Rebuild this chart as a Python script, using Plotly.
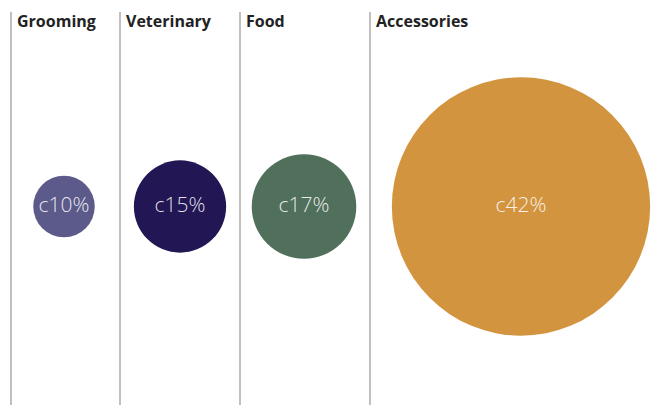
import plotly.graph_objects as go

# Share of spend by category
categories = ["Grooming", "Veterinary", "Food", "Accessories"]
shares = [10, 15, 17, 42]
share_labels = ["c10%", "c15%", "c17%", "c42%"]
colors = ["#5C5A8A", "#221654", "#51705B", "#D39440"]

W, H = 653, 405
# column dividers and bubble centres in page pixels
dividers = [11, 120, 240, 370]
centres_x = [64, 180, 304, 521]
centre_y = 206.5
px_per_point = 6.15  # bubble diameter per percentage point

fig = go.Figure()

fig.add_trace(go.Scatter(
    x=centres_x,
    y=[centre_y] * len(shares),
    mode="markers+text",
    text=share_labels,
    textposition="middle center",
    textfont=dict(family="Open Sans", size=21, weight=300,
                  color="rgba(255,255,255,0.88)"),
    marker=dict(size=[v * px_per_point for v in shares], sizemode="diameter",
                color=colors, opacity=1, line=dict(width=0)),
    hoverinfo="text",
    hovertext=[f"{c}: {l}" for c, l in zip(categories, share_labels)],
    showlegend=False,
    cliponaxis=False,
))

for xd, cat in zip(dividers, categories):
    fig.add_shape(type="line", x0=xd, x1=xd, y0=12, y1=H,
                  line=dict(color="#AEAAA9", width=1.5), layer="below")
    fig.add_annotation(x=xd + 4, y=20.5, text=f"<b>{cat}</b>", showarrow=False,
                       xanchor="left", yanchor="middle",
                       font=dict(family="Open Sans", size=16, color="#222222"))

fig.update_layout(
    width=W, height=H,
    margin=dict(l=0, r=0, t=0, b=0),
    paper_bgcolor="white", plot_bgcolor="white",
    xaxis=dict(range=[0, W], visible=False, fixedrange=True),
    yaxis=dict(range=[H, 0], visible=False, fixedrange=True),
)

fig.write_html("out.html")
